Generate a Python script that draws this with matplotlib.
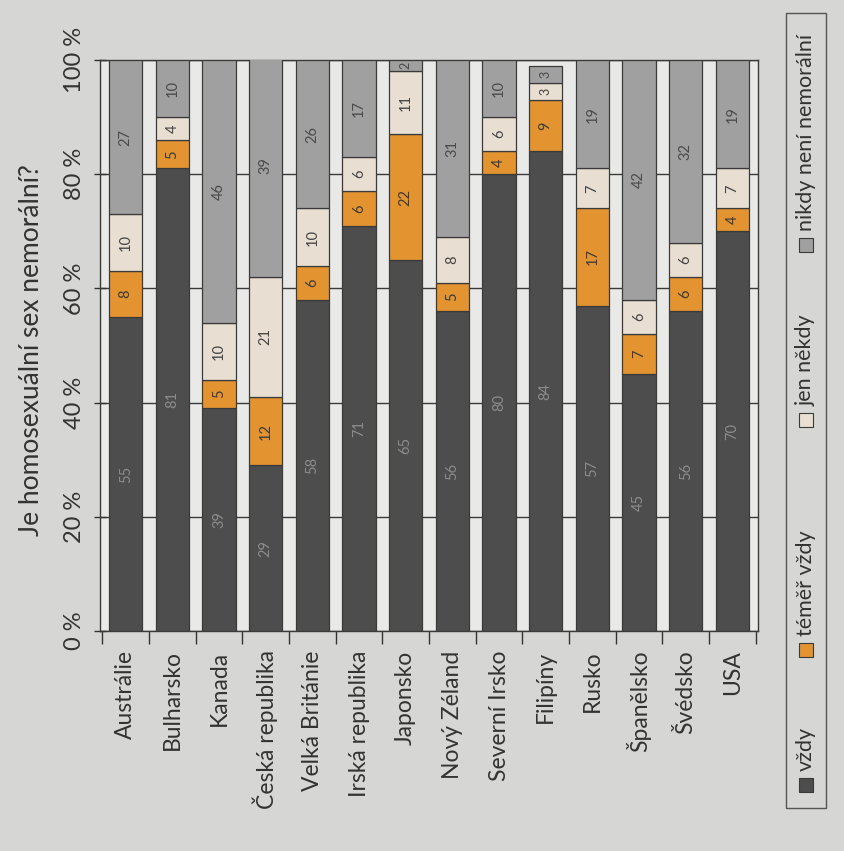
import numpy as np
import matplotlib.pyplot as plt
from matplotlib.patches import Rectangle

plt.rcParams['font.family'] = ['Lato', 'DejaVu Sans']

countries = ["Austrálie", "Bulharsko", "Kanada", "Česká republika", "Velká Británie",
             "Irská republika", "Japonsko", "Nový Zéland", "Severní Irsko", "Filipíny",
             "Rusko", "Španělsko", "Švédsko", "USA"]
vzdy = [55, 81, 39, 29, 58, 71, 65, 56, 80, 84, 57, 45, 56, 70]
temer_vzdy = [8, 5, 5, 12, 6, 6, 22, 5, 4, 9, 17, 7, 6, 4]
jen_nekdy = [10, 4, 10, 21, 10, 6, 11, 8, 6, 3, 7, 6, 6, 7]
nikdy = [27, 10, 46, 39, 26, 17, 2, 31, 10, 3, 19, 42, 32, 19]
series_names = ["vždy", "téměř vždy", "jen někdy", "nikdy není nemorální"]
colors = ["#4d4d4d", "#e39430", "#e8ded2", "#a0a0a0"]
text_colors = ["#8c8c8c", "#3a3a3a", "#444444", "#4a4a4a"]

W, H = 844, 851
fig = plt.figure(figsize=(W / 100, H / 100), dpi=100)
fig.patch.set_facecolor("#d6d6d4")
ax = fig.add_axes([100 / W, 1 - 631 / H, 658 / W, 571 / H])
ax.set_facecolor("#e9e9e7")

x = np.arange(len(countries))
bottom = np.zeros(len(countries))
for vals, col, tcol in zip([vzdy, temer_vzdy, jen_nekdy, nikdy], colors, text_colors):
    vals = np.array(vals)
    ax.bar(x, vals, 0.72, bottom=bottom, color=col, edgecolor="#3a3a3a",
           linewidth=0.9, zorder=3)
    for xi, b, v in zip(x, bottom, vals):
        fs = 10.5 if v >= 4 else 9
        ax.text(xi, b + v / 2, str(v), rotation=90, ha="center", va="center",
                fontsize=fs, color=tcol, zorder=4)
    bottom += vals

ax.set_xlim(-0.55, len(countries) - 0.45)
ax.set_ylim(0, 100)

ax.set_yticks(range(0, 101, 20))
ax.set_yticklabels([f"{v} %" for v in range(0, 101, 20)], rotation=90, va="center",
                   fontsize=17, color="#333333")
ax.tick_params(axis="y", length=9, width=1, direction="inout", color="#333333", pad=6)
ax.yaxis.grid(True, color="#3a3a3a", linewidth=1, zorder=0)

ax.set_xticks(x)
ax.set_xticklabels(countries, rotation=90, ha="center", va="top", fontsize=16.5,
                   color="#333333")
ax.set_xticks(np.arange(-0.5, len(countries), 1.0), minor=True)
ax.tick_params(axis="x", which="major", length=0, pad=14)
ax.tick_params(axis="x", which="minor", length=9, width=1, direction="out", color="#333333")

for s in ax.spines.values():
    s.set_color("#3a3a3a")
    s.set_linewidth(1)

fig.text(32 / W, 1 - 350 / H, "Je homosexuální sex nemorální?", rotation=90,
         ha="center", va="center", fontsize=19, color="#333333")

# legend drawn as a vertical column (rotated page)
lx = 806
marker_y = [785, 650, 420, 245]
for name, col, my in zip(series_names, colors, marker_y):
    fig.add_artist(Rectangle(((lx - 7) / W, 1 - (my + 7) / H), 14 / W, 14 / H,
                             transform=fig.transFigure, facecolor=col,
                             edgecolor="#3a3a3a", linewidth=0.8))
    fig.text(lx / W, 1 - (my - 14) / H, name, rotation=90, ha="center", va="bottom",
             fontsize=15.5, color="#333333")
fig.add_artist(Rectangle((786 / W, 1 - 808 / H), 40 / W, 795 / H,
                         transform=fig.transFigure, fill=False,
                         edgecolor="#555555", linewidth=1))

fig.savefig("out.png", dpi=100, facecolor=fig.get_facecolor())
